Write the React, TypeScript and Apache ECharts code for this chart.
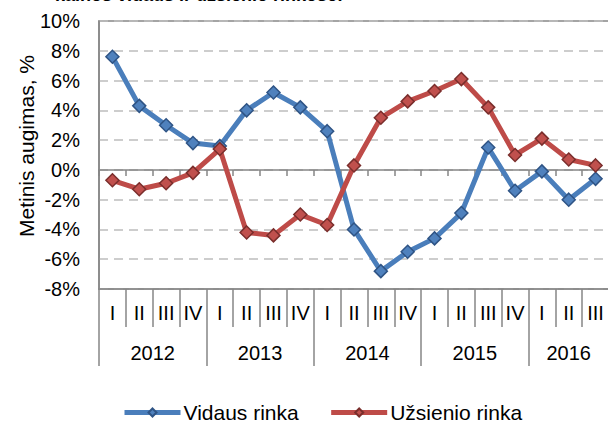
import React, { useEffect, useRef } from "react";
import * as echarts from "echarts";

const quarters = ["I", "II", "III", "IV", "I", "II", "III", "IV", "I", "II", "III", "IV", "I", "II", "III", "IV", "I", "II", "III"];
const years = ["2012", "2013", "2014", "2015", "2016"];
const yearCounts = [4, 4, 4, 4, 3];
const vidaus = [7.6, 4.3, 3.0, 1.8, 1.6, 4.0, 5.2, 4.2, 2.6, -4.0, -6.8, -5.5, -4.6, -2.9, 1.5, -1.4, -0.1, -2.0, -0.6];
const uzsienio = [-0.7, -1.3, -0.9, -0.2, 1.4, -4.2, -4.4, -3.0, -3.7, 0.3, 3.5, 4.6, 5.3, 6.1, 4.2, 1.0, 2.1, 0.7, 0.3];
const seriesNames = ["Vidaus rinka", "Užsienio rinka"];
const yTitle = "Metinis augimas, %";
const chartTitle = "kainos vidaus ir užsienio rinkose:";

const FONT = "'Liberation Sans', Arial, sans-serif";
const AXIS = "#868686";

// half-quarter slots: label at group center, separator at group start
const yearSlots: string[] = [];
const yearBoundary: boolean[] = [];
(function build() {
  const total = quarters.length * 2;
  for (let i = 0; i <= total; i++) {
    yearSlots.push("");
    yearBoundary.push(false);
  }
  let start = 0;
  years.forEach((y, k) => {
    yearBoundary[start * 2] = true;
    yearSlots[start * 2 + yearCounts[k]] = y;
    start += yearCounts[k];
  });
  yearBoundary[start * 2] = true;
})();

export default function App() {
  const ref = useRef<HTMLDivElement>(null);
  useEffect(() => {
    if (!ref.current) return;
    const chart = echarts.init(ref.current, undefined, { renderer: "svg" });
    chart.setOption({
      animation: false,
      backgroundColor: "#fff",
      textStyle: { fontFamily: FONT },
      grid: {
        left: 99,
        top: 21,
        right: 0,
        bottom: 135,
        show: true,
        borderColor: AXIS,
        borderWidth: 1.5,
        backgroundColor: "transparent",
      },
      legend: {
        data: seriesNames,
        left: 122,
        top: 402,
        padding: 0,
        itemWidth: 56,
        itemHeight: 10,
        itemGap: 30,
        lineStyle: { width: 5 },
        textStyle: { fontSize: 21, color: "#000", fontFamily: FONT, padding: [0, 0, 0, -2] },
      },
      graphic: [
        {
          type: "text",
          x: 26,
          y: 146,
          rotation: Math.PI / 2,
          style: {
            text: yTitle,
            font: `21px ${FONT}`,
            fill: "#000",
            align: "center",
            verticalAlign: "middle",
          },
        },
        {
          type: "text",
          x: 343,
          y: 4,
          style: {
            text: chartTitle,
            font: `bold 18px ${FONT}`,
            fill: "#000",
            align: "right",
            verticalAlign: "bottom",
          },
        },
      ],
      xAxis: [
        {
          type: "category",
          data: quarters,
          position: "bottom",
          boundaryGap: true,
          axisLine: { show: true, onZero: false, lineStyle: { color: AXIS, width: 1.5 } },
          axisTick: { show: true, interval: 0, length: 38, lineStyle: { color: AXIS, width: 1.5 } },
          axisLabel: { interval: 0, margin: 14, fontSize: 20, color: "#000", lineHeight: 20, fontFamily: FONT },
          splitLine: { show: false },
        },
        {
          type: "category",
          data: yearSlots,
          position: "bottom",
          offset: 38,
          boundaryGap: false,
          axisLine: { show: false, onZero: false },
          axisTick: {
            show: true,
            interval: (i: number) => yearBoundary[i],
            length: 39,
            lineStyle: { color: AXIS, width: 1.5 },
          },
          axisLabel: { interval: 0, margin: 16, fontSize: 20, color: "#000", lineHeight: 20, fontFamily: FONT },
          splitLine: { show: false },
        },
        {
          type: "category",
          data: quarters,
          position: "bottom",
          boundaryGap: true,
          axisLine: { show: true, onZero: true, lineStyle: { color: AXIS, width: 1.5 } },
          axisTick: { show: true, interval: 0, length: 6, lineStyle: { color: AXIS, width: 1.5 } },
          axisLabel: { show: false },
          splitLine: { show: false },
        },
      ],
      yAxis: {
        type: "value",
        min: -8,
        max: 10,
        interval: 2,
        axisLine: { show: true, lineStyle: { color: AXIS, width: 1.5 } },
        axisTick: { show: false },
        axisLabel: { formatter: "{value}%", fontSize: 20, color: "#000", margin: 19, fontFamily: FONT },
        splitLine: { show: true, lineStyle: { color: "#bdbdbd", width: 1.5, type: [9, 6] } },
      },
      series: [
        {
          name: seriesNames[0],
          type: "line",
          data: vidaus,
          xAxisIndex: 0,
          symbol: "diamond",
          symbolSize: 13,
          showAllSymbol: true,
          lineStyle: { color: "#4a7ebb", width: 5 },
          itemStyle: { color: "#4f81bd", borderColor: "#2f5485", borderWidth: 1.5 },
        },
        {
          name: seriesNames[1],
          type: "line",
          data: uzsienio,
          xAxisIndex: 0,
          symbol: "diamond",
          symbolSize: 13,
          showAllSymbol: true,
          lineStyle: { color: "#be4b48", width: 5 },
          itemStyle: { color: "#c0504d", borderColor: "#7a2e2c", borderWidth: 1.5 },
        },
      ],
    });
    return () => chart.dispose();
  }, []);
  return (
    <div style={{ position: "fixed", left: 0, top: 0, width: 608, height: 424, overflow: "hidden" }}>
      <div ref={ref} style={{ width: 612, height: 424 }} />
    </div>
  );
}
